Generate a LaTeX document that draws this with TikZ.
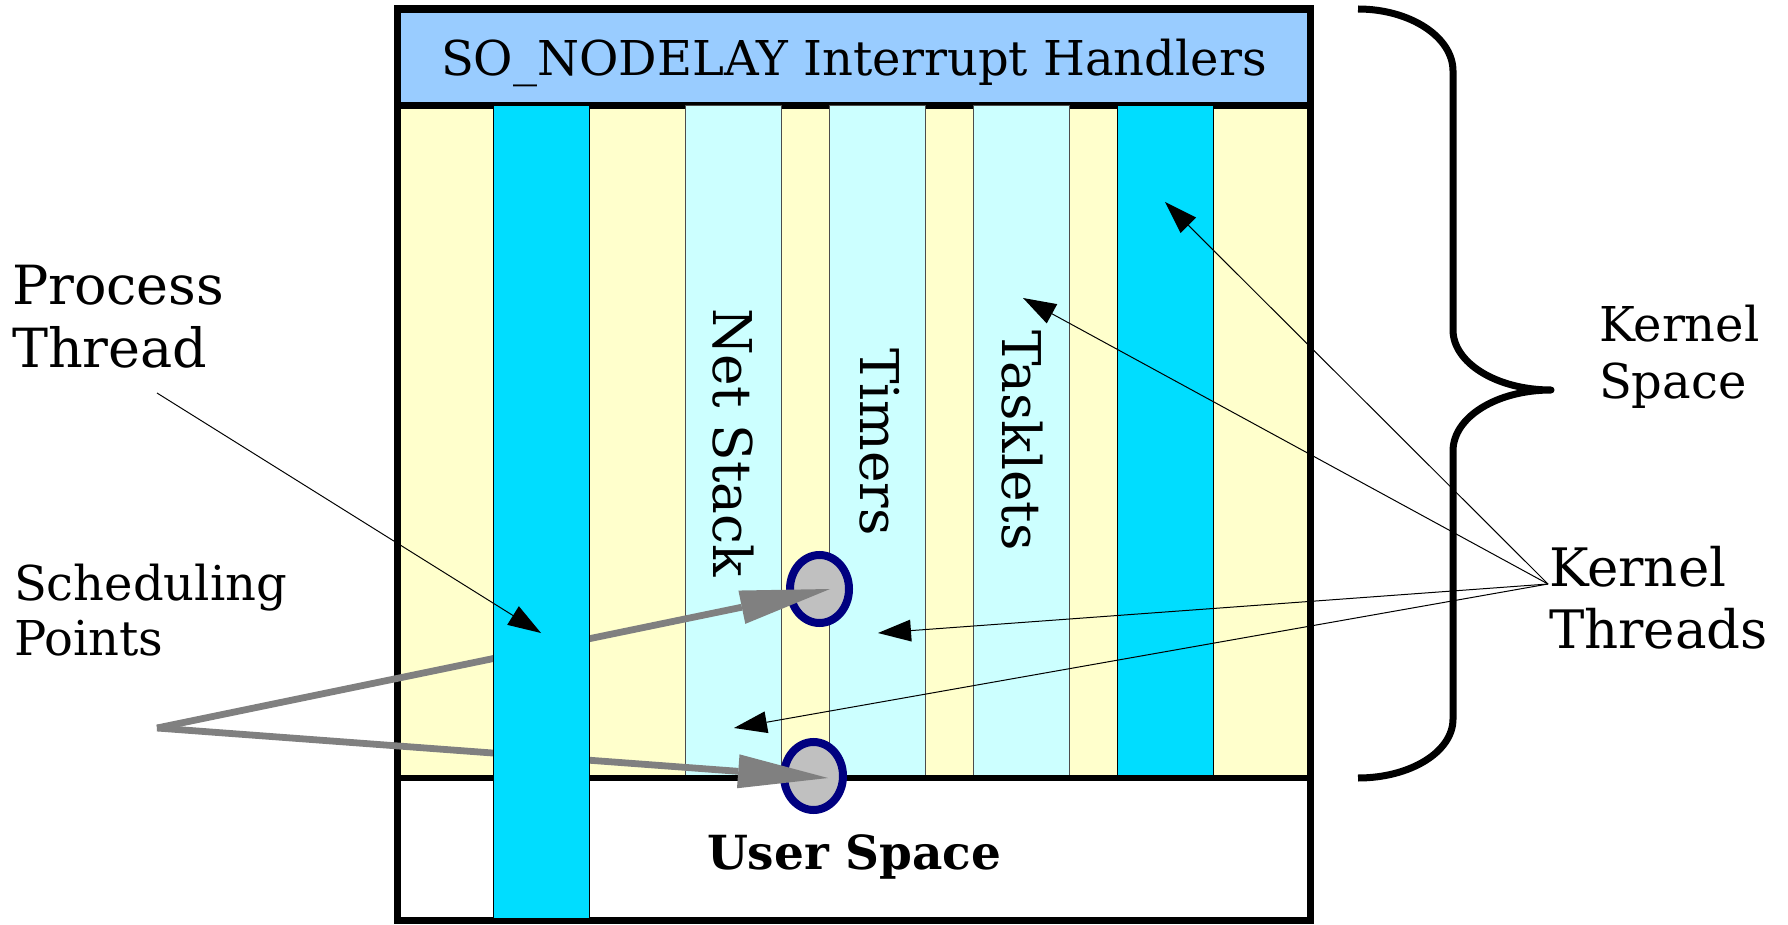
\documentclass[tikz,border=0pt]{standalone}
\usepackage{fontspec}
\usepackage{graphicx}
\setmainfont{DejaVu Serif}
\usetikzlibrary{arrows.meta,shapes.geometric}
\definecolor{hdrblue}{HTML}{99CCFF}
\definecolor{kyellow}{HTML}{FFFFCC}
\definecolor{kcyan}{HTML}{00DDFF}
\definecolor{lcyan}{HTML}{CCFFFF}
\definecolor{ptgray}{HTML}{C0C0C0}
\definecolor{ptnavy}{HTML}{000080}
\definecolor{arrgray}{HTML}{808080}
\begin{document}
% one unit = one pixel of the drawing, y pointing down
\begin{tikzpicture}[x=0.5pt,y=-0.5pt,
  every node/.style={inner sep=0pt, outer sep=0pt},
  frameline/.style={line width=3.8pt},
  softstripe/.style={fill=lcyan, draw=black!70, line width=0.5pt},
  threadstripe/.style={fill=kcyan, draw=black, line width=0.5pt},
  schedpt/.style={ellipse, fill=ptgray, draw=ptnavy, line width=4pt,
    minimum width=29.5pt, minimum height=34pt},
  bigarrow/.style={draw=arrgray, line width=3.4pt,
    -{Triangle[length=45pt,width=17pt,line width=0pt]}},
  thinarrow/.style={draw=black, line width=0.5pt,
    -{Triangle[length=16.5pt,width=11pt,line width=0pt]}},
  sidetext/.style={anchor=base west, font=\fontsize{#1}{#1}\selectfont},
  vtext/.style={anchor=base west, rotate=-90, font=\fontsize{26.7pt}{26.7pt}\selectfont},
  bracepath/.style={line width=3.5pt, line join=round}
]
\useasboundingbox (0,0) rectangle (1788,925);

% backgrounds of the three layers
\fill[hdrblue] (397.5,9) rectangle (1310.5,105.5);
\fill[kyellow] (397.5,105.5) rectangle (1310.5,778);
\fill[white] (397.5,778) rectangle (1310.5,920.5);
\draw[frameline] (397.5,105.5) -- (1310.5,105.5);

% softirq-style work stripes and the kernel thread stripe
\draw[softstripe] (685,106) rectangle (781.5,778);
\draw[softstripe] (829,106) rectangle (925.5,778);
\draw[softstripe] (973,106) rectangle (1069.5,778);
\draw[threadstripe] (1117,106) rectangle (1213,778);

% kernel / user boundary and outer frame
\draw[line width=3.4pt] (397.5,778) -- (1310.5,778);
\draw[frameline] (397.5,9) rectangle (1310.5,920.5);

% scheduling points
\node[schedpt] (sp1) at (819.5,589) {};
\node[schedpt] (sp2) at (813.5,776) {};

\coordinate (spsrc) at (157,728);
\draw[bigarrow] (spsrc) -- ([xshift=5.25pt]sp1.center);
\draw[bigarrow] (spsrc) -- ([xshift=7.25pt,yshift=-1pt]sp2.center);

% process thread stripe crossing into user space
\draw[threadstripe] (493,106) rectangle (589,918.5);

% thin pointer arrows
\coordinate (ptsrc) at (157,393);
\coordinate (pttip) at (541,633);
\draw[thinarrow] (ptsrc) -- (pttip);

\coordinate (ktsrc) at (1548,584);
\coordinate (kt1) at (1165,202);
\coordinate (kt2) at (1023,298);
\coordinate (kt3) at (878,633);
\coordinate (kt4) at (734,728);
\draw[thinarrow] (ktsrc) -- (kt1);
\draw[thinarrow] (ktsrc) -- (kt2);
\draw[thinarrow] (ktsrc) -- (kt3);
\draw[thinarrow] (ktsrc) -- (kt4);

% texts
\node[anchor=base] (hdr) at (854,76)
  {\resizebox{413pt}{\height}{\fontsize{24pt}{24pt}\selectfont SO\_NODELAY Interrupt Handlers}};
\node[vtext] (netstack) at (713,308) {Net Stack};
\node[vtext] (timers) at (860,348) {Timers};
\node[vtext] (tasklets) at (1002,330) {Tasklets};
\node[anchor=base] (user) at (854,869)
  {\resizebox{147pt}{\height}{\fontsize{23.5pt}{23.5pt}\selectfont\bfseries User Space}};

\node[sidetext=27pt] (proc1) at (12,305) {Process};
\node[sidetext=27pt] (proc2) at (12,367) {Thread};
\node[sidetext=24pt] (sched1) at (14,600) {Scheduling};
\node[sidetext=24pt] (sched2) at (14,655) {Points};
\node[sidetext=24pt] (ks1) at (1599,342) {Kernel};
\node[sidetext=24pt] (ks2) at (1599,398) {Space};
\node[sidetext=26.5pt] (kt1l) at (1549,586) {Kernel};
\node[sidetext=26.5pt] (kt2l) at (1549,648) {Threads};

% brace spanning the kernel layers
\draw[bracepath] (1358,9) .. controls (1410,9) and (1453,37) .. (1453,71)
  -- (1453,330) .. controls (1453,363) and (1497,390) .. (1551,390)
  .. controls (1497,390) and (1453,417) .. (1453,451)
  -- (1453,719) .. controls (1453,752) and (1410,778) .. (1358,778);
\end{tikzpicture}
\end{document}
